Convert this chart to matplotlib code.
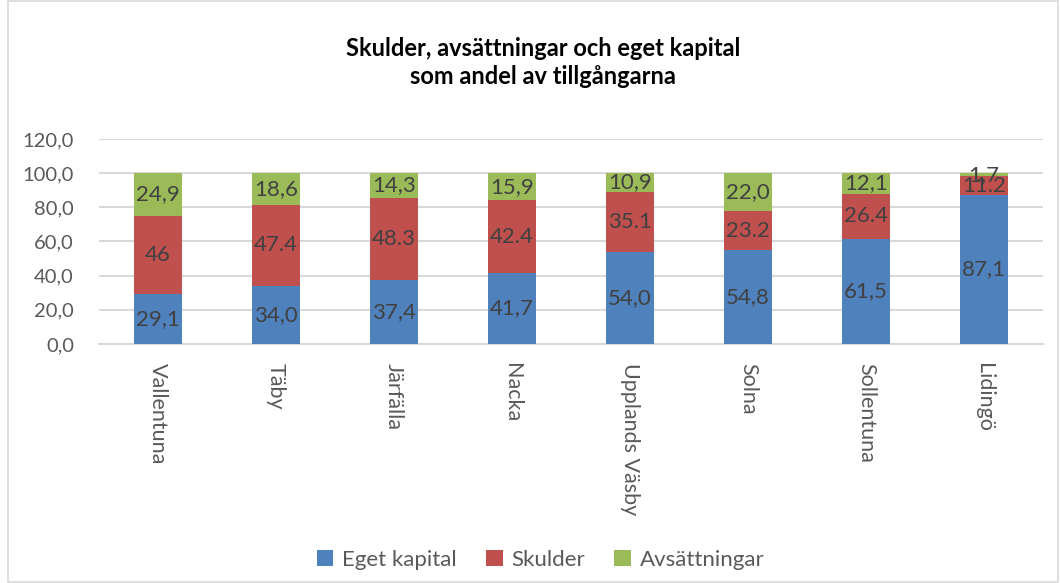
import numpy as np
import matplotlib.pyplot as plt
from matplotlib.patches import Rectangle

plt.rcParams['font.family'] = ['Lato', 'DejaVu Sans']

kommuner = ['Vallentuna', 'Täby', 'Järfälla', 'Nacka', 'Upplands Väsby',
            'Solna', 'Sollentuna', 'Lidingö']
eget_kapital = [29.1, 34.0, 37.4, 41.7, 54.0, 54.8, 61.5, 87.1]
skulder = [46.0, 47.4, 48.3, 42.4, 35.1, 23.2, 26.4, 11.2]
avsattningar = [24.9, 18.6, 14.3, 15.9, 10.9, 22.0, 12.1, 1.7]

# labels as they appear in the source (mixed decimal separators)
eget_labels = ['29,1', '34,0', '37,4', '41,7', '54,0', '54,8', '61,5', '87,1']
skulder_labels = ['46', '47.4', '48.3', '42.4', '35.1', '23.2', '26.4', '11.2']
avs_labels = ['24,9', '18,6', '14,3', '15,9', '10,9', '22,0', '12,1', '1,7']

yticks = [0, 20, 40, 60, 80, 100, 120]
ytick_labels = ['0,0', '20,0', '40,0', '60,0', '80,0', '100,0', '120,0']

colors = ['#4f81bd', '#c0504d', '#9bbb59']
text_col = '#404040'

fig = plt.figure(figsize=(10.6, 5.83), dpi=100)
ax = fig.add_axes([0.0934, 0.41, 0.8906, 0.3516])

x = np.arange(len(kommuner))
w = 0.41
series = [(eget_kapital, eget_labels, 'Eget kapital'),
          (skulder, skulder_labels, 'Skulder'),
          (avsattningar, avs_labels, 'Avsättningar')]
bottom = np.zeros(len(kommuner))
for (vals, labs, name), c in zip(series, colors):
    vals = np.array(vals)
    bars = ax.bar(x, vals, w, bottom=bottom, color=c, label=name, zorder=3)
    ax.bar_label(bars, labels=labs, label_type='center', fontsize=16,
                 color=text_col)
    bottom += vals

ax.set_xlim(-0.5, len(kommuner) - 0.5)
ax.set_ylim(0, 120)
ax.set_yticks(yticks)
ax.set_yticklabels(ytick_labels, fontsize=14.5, color='#595959')
ax.set_xticks(x)
ax.set_xticklabels(kommuner, rotation=270, fontsize=15.5, color='#595959',
                   va='top', ha='center')
ax.tick_params(axis='both', length=0)
ax.tick_params(axis='x', pad=14)
ax.tick_params(axis='y', pad=18)
ax.grid(axis='y', color='#d9d9d9', linewidth=1.5, zorder=0)
for s in ['top', 'right', 'left']:
    ax.spines[s].set_visible(False)
ax.spines['bottom'].set_color('#d9d9d9')
ax.spines['bottom'].set_linewidth(1.5)

fig.text(0.512, 0.893, 'Skulder, avsättningar och eget kapital\nsom andel av tillgångarna',
         ha='center', va='center', fontsize=17, fontweight='bold',
         color='black', linespacing=1.3)

fig.legend(loc='center', bbox_to_anchor=(0.51, 0.04), ncol=3, frameon=False,
           fontsize=16, handlelength=0.75, handleheight=0.75, columnspacing=1.3,
           handletextpad=0.4, labelcolor='#595959')

fig.patches.append(Rectangle((0.008, 0.002), 0.99, 0.996, transform=fig.transFigure,
                             fill=False, edgecolor='#d9d9d9', linewidth=1.2))

fig.savefig('out.png', dpi=100)
